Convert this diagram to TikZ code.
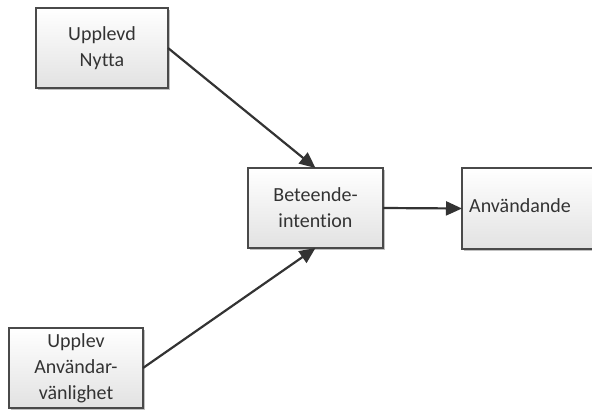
\documentclass[tikz,border=0pt]{standalone}
\usepackage{fontspec}
\setmainfont{Carlito}[Ligatures=NoCommon]
\usetikzlibrary{shadows,arrows.meta}
\definecolor{edge}{HTML}{4A4A4A}
\definecolor{ink}{HTML}{333333}
\definecolor{boxbot}{HTML}{E2E2E2}
\begin{document}
\begin{tikzpicture}[x=1pt,y=-1pt,
  box/.style={draw=edge, line width=1.5pt, top color=white, bottom color=boxbot,
    text=ink, align=center, inner sep=0pt, outer sep=0pt,
    font=\fontsize{20}{26}\selectfont,
    drop shadow={shadow xshift=1.5pt, shadow yshift=-1.5pt, opacity=0.35, fill=black!70}},
  link/.style={draw=ink, line width=2.2pt, -{Triangle[length=16pt,width=14pt]}}]
\useasboundingbox (0,0) rectangle (592,410);
\begin{scope}
\clip (0,0) rectangle (592,410);
\node[box, minimum width=132pt, minimum height=80pt] (nytta) at (102,48) {Upplevd\\Nytta};
\node[box, minimum width=135pt, minimum height=80pt] (intention) at (315.5,208) {Beteende-\\intention};
\node[box, minimum width=150pt, minimum height=81pt] (anv) at (537,208.5) {};
\node[text=ink, font=\fontsize{20}{26}\selectfont, anchor=west, inner sep=0pt] (anvtext) at (469,206) {Användande};
\node[box, minimum width=134pt, minimum height=80pt] (vanl) at (76,368) {Upplev\\Användar-\\vänlighet};
\end{scope}
\draw[link] (nytta.east) -- (intention.north);
\draw[link] (vanl.east) -- (intention.south);
\draw[link] (intention.east) -- (anv.west);
\end{tikzpicture}
\end{document}
